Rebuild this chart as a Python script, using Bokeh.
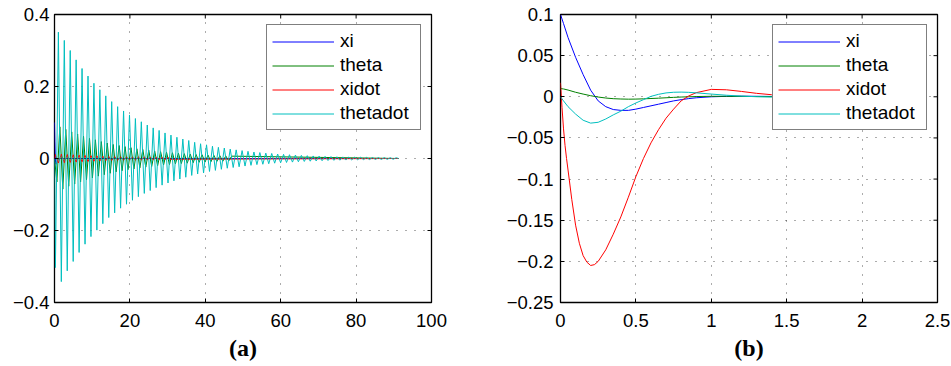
from bokeh.plotting import figure
from bokeh.layouts import row
from bokeh.models import Range1d, FixedTicker, CustomJSTickFormatter
from bokeh.embed import file_html
from bokeh.resources import INLINE

# ---------------- data: panel (a) ----------------
# time of samples (extrema of the oscillation)
t_a = [0.0,
       0.24, 1.03, 1.81, 2.60, 3.38, 4.17, 4.96, 5.74, 6.53, 7.31,
       8.10, 8.89, 9.67, 10.46, 11.24, 12.03, 12.82, 13.60, 14.39, 15.17,
       15.96, 16.75, 17.53, 18.32, 19.10, 19.89, 20.68, 21.46, 22.25, 23.03,
       23.82, 24.61, 25.39, 26.18, 26.96, 27.75, 28.54, 29.32, 30.11, 30.89,
       31.68, 32.47, 33.25, 34.04, 34.82, 35.61, 36.40, 37.18, 37.97, 38.75,
       39.54, 40.33, 41.11, 41.90, 42.68, 43.47, 44.26, 45.04, 45.83, 46.61,
       47.40, 48.19, 48.97, 49.76, 50.54, 51.33, 52.12, 52.90, 53.69, 54.47,
       55.26, 56.05, 56.83, 57.62, 58.40, 59.19, 59.98, 60.76, 61.55, 62.33,
       63.12, 63.91, 64.69, 65.48, 66.26, 67.05, 67.84, 68.62, 69.41, 70.19,
       70.98, 71.77, 72.55, 73.34, 74.12, 74.91, 75.70, 76.48, 77.27, 78.05,
       78.84, 79.63, 80.41, 81.20, 81.98, 82.77, 83.56, 84.34, 85.13, 85.91,
       86.70, 87.49, 88.27, 89.06, 89.84, 90.63,
       91.3]
thetadot_a = [0.0,
              -0.303, 0.351, -0.342, 0.328, -0.312, 0.300, -0.286, 0.274, -0.261, 0.250,
              -0.238, 0.229, -0.217, 0.209, -0.199, 0.191, -0.181, 0.174, -0.164, 0.158,
              -0.151, 0.144, -0.138, 0.132, -0.127, 0.121, -0.116, 0.111, -0.106, 0.102,
              -0.097, 0.093, -0.089, 0.085, -0.081, 0.078, -0.074, 0.071, -0.068, 0.065,
              -0.062, 0.059, -0.057, 0.054, -0.052, 0.050, -0.047, 0.045, -0.043, 0.041,
              -0.040, 0.038, -0.036, 0.034, -0.033, 0.031, -0.030, 0.029, -0.027, 0.026,
              -0.025, 0.024, -0.023, 0.022, -0.021, 0.020, -0.019, 0.018, -0.017, 0.0165,
              -0.016, 0.015, -0.0145, 0.014, -0.013, 0.0125, -0.012, 0.0115, -0.011, 0.0105,
              -0.010, 0.0095, -0.009, 0.0086, -0.0082, 0.0078, -0.0075, 0.0071, -0.0068, 0.0065,
              -0.0062, 0.0059, -0.0056, 0.0054, -0.0051, 0.0049, -0.0047, 0.0045, -0.0043, 0.0041,
              -0.0039, 0.0037, -0.0035, 0.0034, -0.0032, 0.0031, -0.0030, 0.0028, -0.0027, 0.0026,
              -0.0025, 0.0024, -0.0023, 0.0022, -0.0021, 0.0020,
              0.0]
t_theta_a = [0.0,
             0.63, 1.42, 2.20, 2.99, 3.77, 4.56, 5.35, 6.13, 6.92, 7.70,
             8.49, 9.28, 10.06, 10.85, 11.63, 12.42, 13.21, 13.99, 14.78, 15.56,
             16.35, 17.14, 17.92, 18.71, 19.49, 20.28, 21.07, 21.85, 22.64, 23.42,
             24.21, 25.00, 25.78, 26.57, 27.35, 28.14, 28.93, 29.71, 30.50, 31.28,
             32.07, 32.86, 33.64, 34.43, 35.21, 36.00, 36.79, 37.57, 38.36, 39.14,
             39.93, 40.72, 41.50, 42.29, 43.07, 43.86, 44.65, 45.43, 46.22, 47.00,
             91.3]
theta_a = [0.0,
           -0.065, 0.088, -0.085, 0.081, -0.077, 0.074, -0.071, 0.068, -0.065, 0.062,
           -0.059, 0.056, -0.054, 0.052, -0.049, 0.047, -0.045, 0.043, -0.041, 0.039,
           -0.037, 0.036, -0.034, 0.033, -0.031, 0.030, -0.029, 0.027, -0.026, 0.025,
           -0.024, 0.023, -0.022, 0.021, -0.020, 0.019, -0.018, 0.0176, -0.017, 0.016,
           -0.015, 0.0147, -0.014, 0.0134, -0.013, 0.0123, -0.0117, 0.011, -0.0106, 0.0103,
           -0.0099, 0.0094, -0.0089, 0.0085, -0.0081, 0.0077, -0.0075, 0.0071, -0.0067, 0.0065,
           0.0]
xidot_a = [0.0,
           0.011, -0.0125, 0.012, -0.0117, 0.0111, -0.0107, 0.0102, -0.0098, 0.0093, -0.0089,
           0.0085, -0.0082, 0.0078, -0.0075, 0.0071, -0.0068, 0.0065, -0.0062, 0.0059, -0.0056,
           0.0054, -0.0051, 0.0049, -0.0047, 0.0045, -0.0043, 0.0041, -0.0040, 0.0038, -0.0036,
           0.0035, -0.0033, 0.0032, -0.0030, 0.0029, -0.0028, 0.0026, -0.0025, 0.0024, -0.0023,
           0.0]
t_xidot_a = t_a[:41] + [t_a[-1]]
t_xi_a = [0.0, 0.1, 0.2, 0.3, 0.45, 0.7, 1.0, 91.3]
xi_a = [0.1, 0.048, 0.009, -0.011, -0.016, -0.007, 0.0, 0.0]

# ---------------- data: panel (b) ----------------
t_b = [0.0, 0.02, 0.05, 0.1, 0.15, 0.2, 0.25, 0.3, 0.35, 0.4, 0.45, 0.5, 0.55,
       0.6, 0.65, 0.7, 0.75, 0.8, 0.85, 0.9, 1.0, 1.1, 1.2, 1.3, 1.4, 1.5]
xi_b = [0.1, 0.089, 0.072, 0.048, 0.027, 0.008, -0.005, -0.012, -0.0155, -0.0165,
        -0.0165, -0.015, -0.013, -0.011, -0.009, -0.007, -0.005, -0.0035, -0.0022,
        -0.0012, 0.0, 0.0005, 0.0007, 0.0006, 0.0004, 0.0003]
theta_b = [0.010, 0.0095, 0.0082, 0.0055, 0.0033, 0.0013, -0.0003, -0.0015, -0.0023,
           -0.0027, -0.0029, -0.0028, -0.0025, -0.0021, -0.0017, -0.0012, -0.0007,
           -0.0003, 0.0, 0.0003, 0.0006, 0.0006, 0.0005, 0.0003, 0.0002, 0.0001]
thetadot_b = [0.0, -0.005, -0.012, -0.021, -0.0285, -0.032, -0.031, -0.027, -0.022,
              -0.0175, -0.012, -0.0075, -0.0035, 0.0005, 0.003, 0.0047, 0.0055, 0.0057,
              0.0054, 0.0048, 0.0033, 0.0019, 0.0008, 0.0001, -0.0003, -0.0004]
t_xidot_b = [0.0, 0.01, 0.02, 0.03, 0.04, 0.05, 0.075, 0.1, 0.125, 0.15, 0.175, 0.2,
             0.225, 0.25, 0.3, 0.35, 0.4, 0.45, 0.5, 0.55, 0.6, 0.65, 0.7, 0.75, 0.8,
             0.85, 0.9, 1.0, 1.1, 1.2, 1.3, 1.4, 1.5]
xidot_b = [0.017, -0.013, -0.039, -0.059, -0.075, -0.089, -0.125, -0.156, -0.178,
           -0.193, -0.201, -0.205, -0.204, -0.200, -0.186, -0.167, -0.146, -0.122,
           -0.097, -0.075, -0.056, -0.040, -0.026, -0.015, -0.005, 0.001, 0.005,
           0.009, 0.0085, 0.0065, 0.0042, 0.0025, 0.0015]

names = ["xi", "theta", "xidot", "thetadot"]
colors = ["#0000FF", "#008000", "#FF0000", "#00BFBF"]

xticks_a = [0, 20, 40, 60, 80, 100]
yticks_a = [-0.4, -0.2, 0, 0.2, 0.4]
xticks_b = [0, 0.5, 1, 1.5, 2, 2.5]
yticks_b = [-0.25, -0.2, -0.15, -0.1, -0.05, 0, 0.05, 0.1]

FONT = "Liberation Sans"
FW, FH = 377, 288
TICK = 4


def make_fig(xr, yr, xt, yt, label, mbl, mbr, ystand):
    fmt = CustomJSTickFormatter(code="""
        const s = String(Math.round(tick * 1000) / 1000);
        return s.replace('-', '\\u2212');
    """)
    p = figure(output_backend="svg", toolbar_location=None,
               x_range=Range1d(xr[0], xr[1]), y_range=Range1d(yr[0], yr[1]),
               frame_width=FW, frame_height=FH,
               min_border_left=mbl, min_border_right=mbr,
               min_border_top=14, min_border_bottom=63,
               background_fill_color="white", border_fill_color="white")
    p.outline_line_color = "black"
    p.outline_line_width = 1.3
    xa = p.xaxis[0]
    ya = p.yaxis[0]
    for ax, ticks in ((xa, xt), (ya, yt)):
        ax.ticker = FixedTicker(ticks=ticks)
        ax.formatter = fmt
        ax.axis_line_color = None
        ax.major_tick_in = TICK
        ax.major_tick_out = 0
        ax.major_tick_line_color = "black"
        ax.major_tick_line_width = 1
        ax.minor_tick_line_color = None
        ax.major_label_text_font = FONT
        ax.major_label_text_font_size = "18.5px"
        ax.major_label_text_color = "black"
    xa.major_label_standoff = 11
    ya.major_label_standoff = ystand
    xa.axis_label = label
    xa.axis_label_text_font = "Liberation Serif"
    xa.axis_label_text_font_style = "bold"
    xa.axis_label_text_font_size = "24px"
    xa.axis_label_text_color = "black"
    xa.axis_label_standoff = 5
    # inward ticks on the top and right edges of the box
    dy = (yr[1] - yr[0]) * TICK / FH
    dx = (xr[1] - xr[0]) * TICK / FW
    p.segment(x0=xt, y0=[yr[1]] * len(xt), x1=xt, y1=[yr[1] - dy] * len(xt),
              line_color="black", line_width=1)
    p.segment(x0=[xr[1]] * len(yt), y0=yt, x1=[xr[1] - dx] * len(yt), y1=yt,
              line_color="black", line_width=1)
    p.xgrid.ticker = FixedTicker(ticks=xt)
    p.ygrid.ticker = FixedTicker(ticks=yt)
    for g in (p.xgrid, p.ygrid):
        g.grid_line_color = "black"
        g.grid_line_alpha = 0.65
        g.grid_line_width = 1
        g.grid_line_dash = "1 8"
    return p


def style_legend(p):
    lg = p.legend[0]
    lg.location = "top_right"
    lg.margin = 10
    lg.padding = 5
    lg.spacing = 2
    lg.glyph_width = 62
    lg.glyph_height = 21
    lg.label_height = 21
    lg.label_width = 75
    lg.label_standoff = 6
    lg.label_text_font = FONT
    lg.label_text_font_size = "19px"
    lg.label_text_color = "black"
    lg.border_line_color = "black"
    lg.border_line_width = 1.2
    lg.background_fill_color = "white"
    lg.background_fill_alpha = 1.0


pa = make_fig((0, 100), (-0.4, 0.4), xticks_a, yticks_a, "(a)", 54, 39, 5)
series_a = [(t_xi_a, xi_a), (t_theta_a, theta_a), (t_xidot_a, xidot_a), (t_a, thetadot_a)]
for (tx, ty), nm, c in zip(series_a, names, colors):
    pa.line(tx, ty, line_color=c, line_width=1, legend_label=nm)
style_legend(pa)

pb = make_fig((0, 2.5), (-0.25, 0.1), xticks_b, yticks_b, "(b)", 90, 13, 7)
series_b = [(t_b, xi_b), (t_b, theta_b), (t_xidot_b, xidot_b), (t_b, thetadot_b)]
for (tx, ty), nm, c in zip(series_b, names, colors):
    pb.line(tx, ty, line_color=c, line_width=1, legend_label=nm)
style_legend(pb)

layout = row(pa, pb)
open("out.html", "w").write(file_html(layout, INLINE))
